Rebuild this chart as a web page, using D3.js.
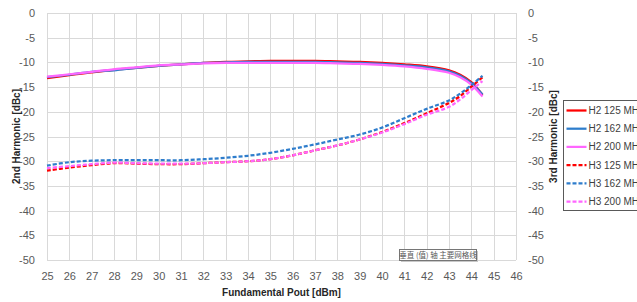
<!DOCTYPE html>
<html>
<head>
<meta charset="utf-8">
<script src="https://cdn.jsdelivr.net/npm/d3@7"></script>
<style>
  body { margin: 0; background: #fff; }
  svg { display: block; font-family: "Liberation Sans", Arial, sans-serif; }
</style>
</head>
<body>
<div id="chart"></div>
<script>
// Pout values (dBm)
const pout = [25, 26, 27, 28, 29, 30, 31, 32, 33, 34, 35, 36, 37, 38, 39, 40, 41, 42, 43, 43.5, 44, 44.5];

// 2nd harmonic (dBc)
const h2_125 = [-13.2, -12.6, -12.0, -11.5, -11.1, -10.7, -10.4, -10.1, -9.9, -9.8, -9.7, -9.7, -9.7, -9.8, -9.9, -10.1, -10.4, -10.8, -11.6, -12.5, -14.0, -16.6];
const h2_162 = [-13.0, -12.5, -11.9, -11.6, -11.1, -10.7, -10.4, -10.1, -10.0, -9.9, -9.9, -9.9, -9.9, -10.0, -10.1, -10.3, -10.6, -11.0, -11.8, -12.7, -14.2, -16.5];
const h2_200 = [-12.9, -12.4, -11.9, -11.4, -11.0, -10.6, -10.4, -10.2, -10.1, -10.1, -10.1, -10.1, -10.1, -10.2, -10.3, -10.5, -10.8, -11.3, -12.1, -13.0, -14.5, -16.9];

// 3rd harmonic (dBc)
const h3_125 = [-31.9, -31.3, -30.8, -30.4, -30.5, -30.6, -30.6, -30.4, -30.2, -30.0, -29.6, -28.8, -27.8, -26.8, -25.6, -24.1, -22.3, -20.3, -18.2, -16.8, -14.9, -13.0];
const h3_162 = [-30.9, -30.2, -29.9, -29.8, -29.8, -29.8, -29.8, -29.6, -29.3, -28.9, -28.3, -27.5, -26.6, -25.6, -24.6, -23.2, -21.3, -19.4, -17.7, -16.3, -14.6, -12.7];
const h3_200 = [-31.4, -31.0, -30.6, -30.3, -30.4, -30.5, -30.5, -30.4, -30.2, -30.0, -29.6, -28.8, -27.8, -26.8, -25.6, -24.2, -22.5, -20.6, -19.0, -17.5, -15.6, -13.8];

const xTicks = d3.range(25, 47);
const yTicks = [0, -5, -10, -15, -20, -25, -30, -35, -40, -45, -50];

const series = [
  { name: 'H2 125 MHz', values: h2_125, color: '#ff0000', dash: null },
  { name: 'H2 162 MHz', values: h2_162, color: '#2e7dcc', dash: null },
  { name: 'H2 200 MHz', values: h2_200, color: '#ff66ff', dash: null },
  { name: 'H3 125 MHz', values: h3_125, color: '#ff0000', dash: '4,2' },
  { name: 'H3 162 MHz', values: h3_162, color: '#2e7dcc', dash: '4,2' },
  { name: 'H3 200 MHz', values: h3_200, color: '#ff66ff', dash: '4,2' }
];

const width = 637, height = 302;
const plotL = 47, plotR = 516, plotT = 13, plotB = 260;

const svg = d3.select('#chart').append('svg')
  .attr('width', width)
  .attr('height', height);

const x = d3.scaleLinear().domain([25, 46]).range([plotL, plotR]);
const y = d3.scaleLinear().domain([-50, 0]).range([plotB, plotT]);

// grid
const grid = svg.append('g').attr('class', 'grid');
grid.selectAll('line.v')
  .data(xTicks)
  .enter().append('line')
  .attr('x1', d => Math.round(x(d)) + 0.5).attr('x2', d => Math.round(x(d)) + 0.5)
  .attr('y1', plotT).attr('y2', plotB)
  .attr('stroke', '#d9d9d9').attr('stroke-width', 1);
grid.selectAll('line.h')
  .data(yTicks)
  .enter().append('line')
  .attr('x1', plotL).attr('x2', plotR)
  .attr('y1', d => Math.round(y(d)) + 0.5).attr('y2', d => Math.round(y(d)) + 0.5)
  .attr('stroke', '#d9d9d9').attr('stroke-width', 1);

// axes (text only, like Excel)
const plain = d => String(d);
const axisL = svg.append('g')
  .attr('transform', 'translate(' + (plotL - 4) + ',0)')
  .call(d3.axisLeft(y).tickValues(yTicks).tickSize(0).tickPadding(8).tickFormat(plain));
const axisR = svg.append('g')
  .attr('transform', 'translate(' + (plotR + 4) + ',0)')
  .call(d3.axisRight(y).tickValues(yTicks).tickSize(0).tickPadding(8).tickFormat(plain));
const axisB = svg.append('g')
  .attr('transform', 'translate(0,' + (plotB + 4) + ')')
  .call(d3.axisBottom(x).tickValues(xTicks).tickSize(0).tickPadding(8).tickFormat(plain));

[axisL, axisR, axisB].forEach(a => {
  a.select('.domain').remove();
  a.selectAll('text')
    .attr('fill', '#595959')
    .attr('font-size', 11)
    .attr('font-family', '"Liberation Sans", Arial, sans-serif');
});

// axis titles
svg.append('text')
  .attr('transform', 'translate(20,' + ((plotT + plotB) / 2) + ') rotate(-90)')
  .attr('text-anchor', 'middle')
  .attr('font-size', 10).attr('font-weight', 'bold').attr('fill', '#262626')
  .text('2nd Harmonic [dBc]');
svg.append('text')
  .attr('transform', 'translate(557,' + ((plotT + plotB) / 2) + ') rotate(-90)')
  .attr('text-anchor', 'middle')
  .attr('font-size', 10).attr('font-weight', 'bold').attr('fill', '#262626')
  .text('3rd Harmonic [dBc]');
svg.append('text')
  .attr('x', (plotL + plotR) / 2).attr('y', 296)
  .attr('text-anchor', 'middle')
  .attr('font-size', 10).attr('font-weight', 'bold').attr('fill', '#262626')
  .text('Fundamental Pout [dBm]');

// lines
const line = d3.line()
  .x(d => x(d[0]))
  .y(d => y(d[1]))
  .curve(d3.curveCatmullRom.alpha(0.5));

svg.append('g').selectAll('path')
  .data(series)
  .enter().append('path')
  .attr('d', s => line(pout.map((p, i) => [p, s.values[i]])))
  .attr('fill', 'none')
  .attr('stroke', s => s.color)
  .attr('stroke-width', 2.25)
  .attr('stroke-dasharray', s => s.dash);

// legend (runs off the right edge, as in the original)
const lg = svg.append('g').attr('transform', 'translate(563.5,100.5)');
lg.append('rect')
  .attr('width', 100).attr('height', 110)
  .attr('fill', '#fff').attr('stroke', '#595959').attr('stroke-width', 1);
const items = lg.selectAll('g.item')
  .data(series)
  .enter().append('g')
  .attr('transform', (d, i) => 'translate(0,' + (10 + i * 18.2) + ')');
items.append('line')
  .attr('x1', 3).attr('x2', 23)
  .attr('stroke', d => d.color)
  .attr('stroke-width', 2.25)
  .attr('stroke-dasharray', d => d.dash);
items.append('text')
  .attr('x', 25).attr('dy', '0.35em')
  .attr('font-size', 10).attr('fill', '#404040')
  .text(d => d.name);

// Excel tooltip
const tip = svg.append('g').attr('transform', 'translate(399.5,249.5)');
tip.append('rect')
  .attr('x', 1.5).attr('y', 1.5).attr('width', 77).attr('height', 11)
  .attr('fill', '#c8c8c8');
tip.append('rect')
  .attr('width', 77).attr('height', 11)
  .attr('fill', '#fff').attr('stroke', '#767676').attr('stroke-width', 1);
tip.append('text')
  .attr('x', 38.5).attr('y', 8.5)
  .attr('text-anchor', 'middle')
  .attr('font-size', 7.5).attr('fill', '#575757')
  .attr('font-family', '"Noto Sans CJK SC", sans-serif')
  .text('垂直 (值) 轴 主要网格线');
</script>
</body>
</html>
